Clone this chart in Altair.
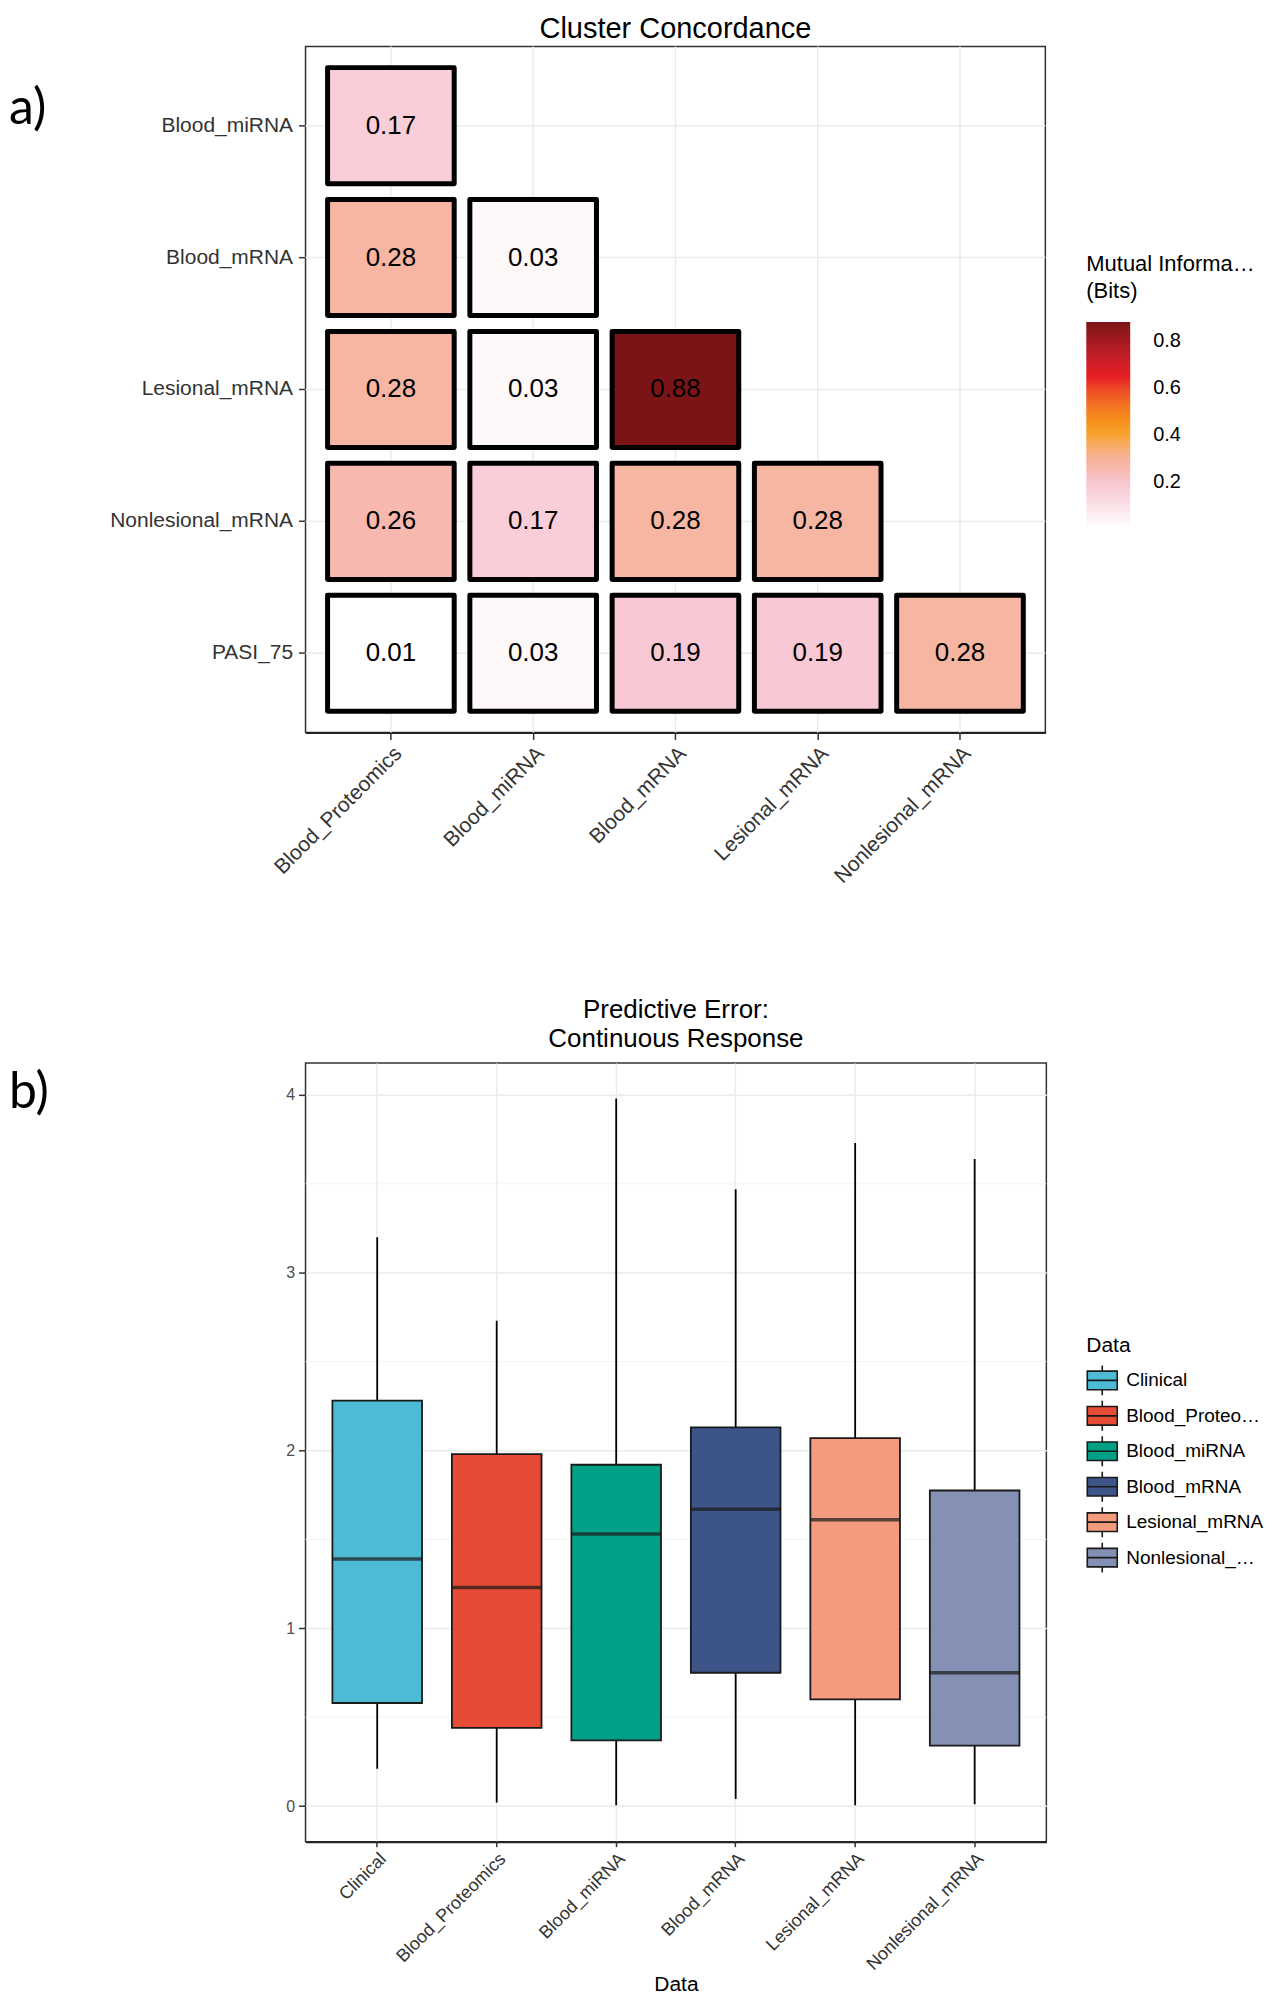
import altair as alt
import pandas as pd

FONT = "Liberation Sans"

# ---------------- Panel a: Cluster Concordance ----------------
conc_cols = ["Blood_Proteomics", "Blood_miRNA", "Blood_mRNA", "Lesional_mRNA", "Nonlesional_mRNA"]
conc_rows = ["Blood_miRNA", "Blood_mRNA", "Lesional_mRNA", "Nonlesional_mRNA", "PASI_75"]
mi_blood_mirna = [0.17]
mi_blood_mrna = [0.28, 0.03]
mi_lesional_mrna = [0.28, 0.03, 0.88]
mi_nonlesional_mrna = [0.26, 0.17, 0.28, 0.28]
mi_pasi_75 = [0.01, 0.03, 0.19, 0.19, 0.28]
legend_ticks = [0.2, 0.4, 0.6, 0.8]
mi_stops = [0.01, 0.05, 0.12, 0.19, 0.26, 0.30, 0.36, 0.42, 0.50, 0.58, 0.65, 0.72, 0.78, 0.88]
mi_colors = ["#FFFFFF", "#FDF0F3", "#FADCE3", "#F8C8D4", "#F7B9AF", "#F6B396", "#F9AA63",
             "#F8A01D", "#F4801F", "#EE5526", "#E61E25", "#CC1E28", "#AC1C22", "#7B1416"]

# ---------------- Panel b: Predictive Error ----------------
groups = ["Clinical", "Blood_Proteomics", "Blood_miRNA", "Blood_mRNA", "Lesional_mRNA", "Nonlesional_mRNA"]
whisker_low = [0.21, 0.02, 0.005, 0.04, 0.005, 0.01]
box_q1 = [0.58, 0.44, 0.37, 0.75, 0.60, 0.34]
box_median = [1.39, 1.23, 1.53, 1.67, 1.61, 0.75]
box_q3 = [2.28, 1.98, 1.92, 2.13, 2.07, 1.775]
whisker_high = [3.20, 2.73, 3.98, 3.47, 3.73, 3.64]
box_colors = ["#4DBBD5", "#E64B35", "#00A087", "#3C5488", "#F39B7F", "#8491B4"]
y_major = [0, 1, 2, 3, 4]
y_minor = [0.5, 1.5, 2.5, 3.5]

# ---------- tables ----------
mi_by_row = [mi_blood_mirna, mi_blood_mrna, mi_lesional_mrna, mi_nonlesional_mrna, mi_pasi_75]
recs = []
for r, vals in zip(conc_rows, mi_by_row):
    for c, v in zip(conc_cols, vals):
        recs.append({"row": r, "col": c, "mi": v, "label": f"{v:.2f}"})
df_a = pd.DataFrame(recs)

df_b = pd.DataFrame({"group": groups, "low": whisker_low, "q1": box_q1, "median": box_median,
                     "q3": box_q3, "high": whisker_high})
df_minor = pd.DataFrame({"minor": y_minor})

GRID = "#EBEBEB"

# ---------- panel a ----------
W_A, H_A = 741, 687
xa = alt.X("col:N", title=None,
           scale=alt.Scale(domain=conc_cols, paddingInner=0.11, paddingOuter=0.155),
           axis=alt.Axis(bandPosition=0.5, labelAngle=-45, labelAlign="right", labelBaseline="top",
                         labelFontSize=21, labelFont=FONT, labelColor="#333333", labelPadding=3,
                         labelLimit=400, tickSize=7, tickColor="#333333", tickWidth=1.5,
                         domain=True, domainColor="#222222", domainWidth=2, grid=False))
ya = alt.Y("row:N", title=None,
           scale=alt.Scale(domain=conc_rows, paddingInner=0.12, paddingOuter=0.16),
           axis=alt.Axis(bandPosition=0.5, labelFontSize=21, labelFont=FONT, labelColor="#333333",
                         labelPadding=6, labelLimit=400, tickSize=7, tickColor="#333333", tickWidth=1.5,
                         domain=False, grid=False))

grid_v = alt.Chart(pd.DataFrame({"col": conc_cols})).mark_rule(color=GRID, strokeWidth=1.5).encode(x=xa)
grid_h = alt.Chart(pd.DataFrame({"row": conc_rows})).mark_rule(color=GRID, strokeWidth=1.5).encode(y=ya)

tiles = alt.Chart(df_a).mark_rect(stroke="black", strokeWidth=5, strokeJoin="round",
                                  opacity=1, fillOpacity=1).encode(
    x=xa, y=ya,
    color=alt.Color("mi:Q",
                    scale=alt.Scale(domain=mi_stops, range=mi_colors, interpolate="rgb"),
                    legend=alt.Legend(title=["Mutual Information", "(Bits)"], orient="none",
                                      legendX=782, legendY=208, values=legend_ticks, format=".1f",
                                      gradientLength=205, gradientThickness=44, gradientStrokeWidth=0,
                                      titleFont=FONT, titleFontSize=22, titleFontWeight="normal",
                                      titleColor="black", titleLineHeight=27, titlePadding=19,
                                      titleLimit=172,
                                      labelFont=FONT, labelFontSize=20, labelColor="black",
                                      labelOffset=23)))
tile_text = alt.Chart(df_a).mark_text(font=FONT, fontSize=26, color="black").encode(
    x=xa, y=ya, text="label:N")
label_a = alt.Chart(pd.DataFrame({"t": ["a)"]})).mark_text(
    font="Lato", fontSize=50, align="left", baseline="alphabetic", color="black").encode(
    text="t:N", x=alt.value(-297), y=alt.value(78))

panel_a = alt.layer(grid_v, grid_h, tiles, tile_text, label_a).properties(
    width=W_A, height=H_A,
    title=alt.TitleParams("Cluster Concordance", font=FONT, fontSize=29, fontWeight="normal",
                          color="black", anchor="middle", offset=2))

# ---------- panel b ----------
W_B, H_B = 742, 780
yscale = alt.Scale(domain=[-0.2, 4.18], nice=False, zero=False)
yaxis = alt.Axis(values=y_major, format="d", title=None, labelFontSize=16, labelFont=FONT,
                 labelColor="#4D4D4D", labelPadding=4, tickSize=7, tickColor="#333333", tickWidth=1.5,
                 domain=False, grid=True, gridColor=GRID, gridWidth=1.5)
xb = alt.X("group:N", scale=alt.Scale(domain=groups, paddingInner=0.25, paddingOuter=0.225),
           axis=alt.Axis(bandPosition=0.5, labelAngle=-45, labelAlign="right", labelBaseline="top",
                         labelFontSize=18, labelFont=FONT, labelColor="#333333", labelPadding=3,
                         labelLimit=400, tickSize=5, tickColor="#333333", tickWidth=1.5,
                         title="Data", titleFont=FONT, titleFontSize=21, titleFontWeight="normal",
                         titleColor="black", titlePadding=0,
                         domain=True, domainColor="#222222", domainWidth=2,
                         grid=True, gridColor=GRID, gridWidth=1.5))

minor_grid = alt.Chart(df_minor).mark_rule(color="#F3F3F3", strokeWidth=1).encode(
    y=alt.Y("minor:Q", scale=yscale, axis=yaxis))
whiskers = alt.Chart(df_b).mark_rule(color="black", strokeWidth=1.8).encode(
    x=xb, y=alt.Y("low:Q", scale=yscale, axis=yaxis), y2="high:Q")
box_path = "M-1,-0.62L1,-0.62L1,0.62L-1,0.62Z M-1,0L1,0 M0,-0.62L0,-1 M0,0.62L0,1"
boxes = alt.Chart(df_b).mark_bar(stroke="#1A1A1A", strokeWidth=1.8).encode(
    x=xb, y=alt.Y("q1:Q", scale=yscale, axis=yaxis), y2="q3:Q",
    color=alt.Color("group:N", scale=alt.Scale(domain=groups, range=box_colors),
                    legend=alt.Legend(title="Data", orient="none", legendX=782, legendY=273,
                                      symbolType=box_path, symbolSize=900,
                                      symbolStrokeColor="#1A1A1A", symbolStrokeWidth=1.6,
                                      symbolOpacity=1, rowPadding=-2.5,
                                      titleFont=FONT, titleFontSize=21, titleFontWeight="normal",
                                      titleColor="black", titlePadding=8,
                                      labelFont=FONT, labelFontSize=19, labelColor="black",
                                      labelOffset=8, labelLimit=138)))
medians = alt.Chart(df_b).mark_tick(color="#1A1A1A", thickness=3.5, size=90).encode(
    x=xb, y=alt.Y("median:Q", scale=yscale, axis=yaxis))
label_b = alt.Chart(pd.DataFrame({"t": ["b)"]})).mark_text(
    font="Lato", fontSize=50, align="left", baseline="alphabetic", color="black").encode(
    text="t:N", x=alt.value(-297), y=alt.value(45))

panel_b = alt.layer(minor_grid, whiskers, boxes, medians, label_b).properties(
    width=W_B, height=H_B,
    title=alt.TitleParams(["Predictive Error:", "Continuous Response"], font=FONT, fontSize=26,
                          lineHeight=29, fontWeight="normal", color="black", anchor="middle",
                          offset=11))

chart = alt.vconcat(panel_a, panel_b, spacing=108).properties(
    padding={"left": 0, "top": 4, "right": 0, "bottom": 0}
).configure_view(stroke="#333333", strokeWidth=1.5)

chart.save("out.html", embed_options={"renderer": "svg", "actions": False})
